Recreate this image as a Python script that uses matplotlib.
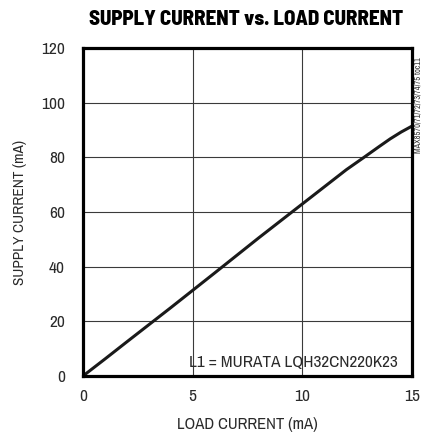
import matplotlib.pyplot as plt

# Data
load_ma = [0, 1, 2, 4, 6, 8, 10, 12, 12.8, 13.5, 14, 14.5, 15]
supply_ma = [0, 6.2, 12.5, 25.0, 37.7, 50.5, 63.0, 75.5, 80.0, 84.0, 86.8, 89.3, 91.5]
xticks = [0, 5, 10, 15]
yticks = [0, 20, 40, 60, 80, 100, 120]

plt.rcParams['font.family'] = ['Archivo Narrow', 'DejaVu Sans']

fig = plt.figure(figsize=(4.21, 4.36), dpi=100)
ax = fig.add_axes([0.197, 0.1376, 0.782, 0.752])

ax.plot(load_ma, supply_ma, color='#1a1a1a', lw=2.2, solid_capstyle='butt')

ax.set_xlim(0, 15)
ax.set_ylim(0, 120)
ax.set_xticks(xticks)
ax.set_yticks(yticks)
ax.grid(True, color='#3a3a3a', lw=0.8)
ax.tick_params(length=0, labelsize=12.5, colors='#2a2a2a')
ax.tick_params(axis='y', pad=13)
ax.tick_params(axis='x', pad=9)
for s in ax.spines.values():
    s.set_linewidth(2.3)
    s.set_color('black')

ax.set_xlabel('LOAD CURRENT (mA)', fontsize=12, labelpad=10, color='#2a2a2a')
ax.set_ylabel('SUPPLY CURRENT (mA)', fontsize=11, labelpad=10, color='#2a2a2a')
fig.text(0.585, 0.956, 'SUPPLY CURRENT vs. LOAD CURRENT', ha='center', va='center',
         fontsize=15, fontweight=800, family=['Barlow Semi Condensed', 'DejaVu Sans'])
ax.text(14.36, 3.3, 'L1 = MURATA LQH32CN220K23', ha='right', va='baseline', fontsize=12.4,
        color='#2a2a2a')
fig.text(0.992, 0.76, 'MAX8570/71/72/73/74/75 toc11', rotation=90, ha='center',
         va='center', fontsize=6, color='#333333')

fig.savefig('out.png', dpi=100)
